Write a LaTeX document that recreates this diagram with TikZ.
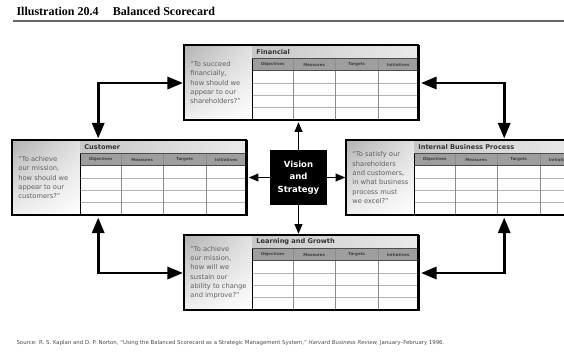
\documentclass[tikz,border=0pt]{standalone}
\usepackage{fontspec}
\setmainfont{Liberation Serif}
\setsansfont{DejaVu Sans}
\usetikzlibrary{positioning}
\usetikzlibrary{arrows}
\usetikzlibrary{shadings}
\tikzset{
panel/.style={ % Frame of one perspective
draw,
line width=1.6pt,
inner sep=0pt,
minimum width=234pt,
minimum height=75pt},
quote/.style={ % Question in the left part
font=\sffamily\fontsize{6.7}{9.3}\selectfont,
text=black!62,
align=left,
inner sep=0pt},
ptitle/.style={font=\sffamily\bfseries\fontsize{6.6}{7}\selectfont, text=black!80, inner sep=0pt},
colhead/.style={font=\sffamily\bfseries\fontsize{4}{5}\selectfont, text=black!75, inner sep=0pt},
hub/.style={ % Vision and Strategy
fill=black,
text=white,
font=\sffamily\bfseries\fontsize{8.5}{12.5}\selectfont,
align=center,
minimum width=57pt,
minimum height=55pt,
inner sep=0pt},
spoke/.style={-triangle 45, line width=1.2pt, shorten >=1pt},
linkarrow/.style={triangle 45-triangle 45, line width=2.6pt, shorten >=1.5pt, shorten <=1.5pt}}

% contents of a perspective: node name, title, question
\newcommand{\bscpanel}[3]{%
\begin{scope}[shift={(#1.north west)}]
\shade[upper left=black!30, upper right=black!12, lower left=black!6, lower right=white] (0,0) rectangle (68,75);
\shade[left color=black!22, right color=black!8] (68,0) rectangle (234,14);
\fill[black!38] (68,14) rectangle (234,26);
\fill[white] (68,26) rectangle (234,75);
\foreach \rw in {1,2,3}
  \draw[black!30, line width=.4pt] (68,{26+12.25*\rw}) -- (234,{26+12.25*\rw});
\foreach \cx in {109,151,194}
  \draw[black!45, line width=.5pt] (\cx,14) -- (\cx,75);
\draw[black!70, line width=.8pt] (68,14) -- (234,14) (68,26) -- (234,26);
\draw[line width=1.2pt] (68,14) -- (68,75);
\node[ptitle, anchor=west] (#1-title) at (72,7) {#2};
\node[quote, anchor=west] (#1-quote) at (6,38) {#3};
\foreach \hx/\lab [count=\i] in {88.5/Objectives, 130/Measures, 172.5/Targets, 214/Initiatives}
  \node[colhead] (#1-head-\i) at (\hx,20) {\lab};
\draw[line width=1.6pt] (0,0) rectangle (234,75);
\end{scope}}

\begin{document}
\begin{tikzpicture}[x=1pt, y=-1pt]
\clip (0,0) rectangle (564,359);
\fill[white] (0,0) rectangle (564,359);

\node[anchor=base west, font=\bfseries\fontsize{12}{14}\selectfont] (heading) at (13,15.5) {Illustration 20.4\hspace{1.2em}Balanced Scorecard};
\draw[black!60, line width=1.3pt] (13,21) -- (564,21);

\node[panel] (fin) at (302,83) {};
\node[panel] (cust) at (130,178) {};
\node[panel] (proc) at (464,178) {};
\node[panel] (learn) at (302,273) {};
\bscpanel{fin}{Financial}{“To succeed\\financially,\\how should we\\appear to our\\shareholders?”}
\bscpanel{cust}{Customer}{“To achieve\\our mission,\\how should we\\appear to our\\customers?”}
\bscpanel{proc}{Internal Business Process}{“To satisfy our\\shareholders\\and customers,\\in what business\\process must\\we excel?”}
\bscpanel{learn}{Learning and Growth}{“To achieve\\our mission,\\how will we\\sustain our\\ability to change\\and improve?”}

\node[hub] (vision) at (298.5,177.5) {Vision\\and\\Strategy};
\draw[spoke] (vision.north) -- (vision.north |- fin.south);
\draw[spoke] (vision.south) -- (vision.south |- learn.north);
\draw[spoke] (vision.west) -- (vision.west -| cust.east);
\draw[spoke] (vision.east) -- (vision.east -| proc.west);

\draw[linkarrow] (fin.west) -| ([xshift=86pt]cust.north west);
\draw[linkarrow] (fin.east) -| ([xshift=158pt]proc.north west);
\draw[linkarrow] (learn.west) -| ([xshift=86pt]cust.south west);
\draw[linkarrow] (learn.east) -| ([xshift=158pt]proc.south west);

\node[anchor=base west, font=\sffamily\fontsize{5.4}{6}\selectfont, text=black!70] (source) at (13,344) {Source: R. S. Kaplan and D. P. Norton, “Using the Balanced Scorecard as a Strategic Management System,” \textit{Harvard Business Review,} January–February 1996.};
\end{tikzpicture}
\end{document}
